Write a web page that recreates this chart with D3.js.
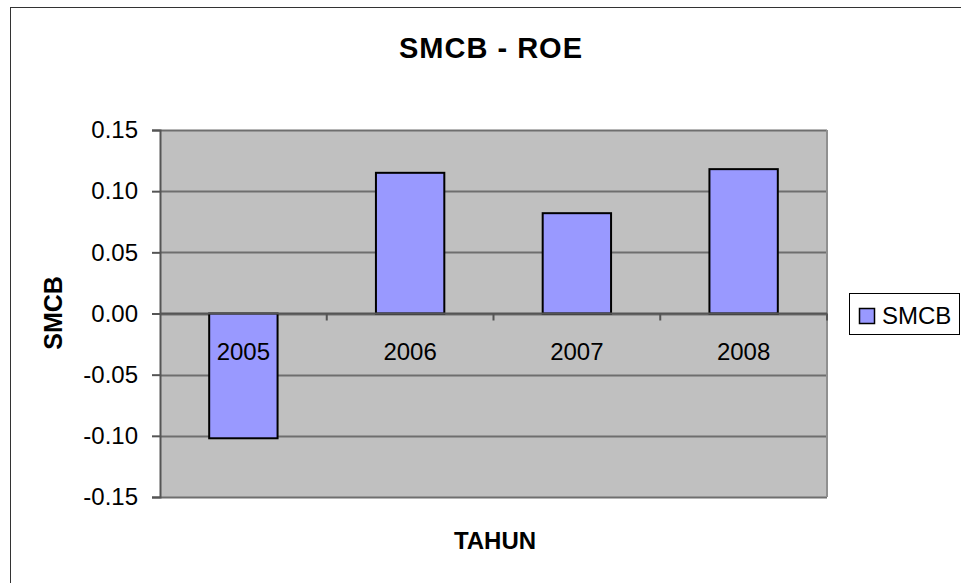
<!DOCTYPE html>
<html>
<head>
<meta charset="utf-8">
<script src="https://cdn.jsdelivr.net/npm/d3@7"></script>
<style>
  body { margin: 0; background: #fff; }
  text { font-family: "Liberation Sans", Arial, sans-serif; }
</style>
</head>
<body>
<script>
// data
var years = ["2005", "2006", "2007", "2008"];
var roe = [-0.102, 0.115, 0.082, 0.118];
var yTicks = [-0.15, -0.10, -0.05, 0.00, 0.05, 0.10, 0.15];

var W = 961, H = 583;
var plot = {left: 160, top: 130, right: 827, bottom: 497};

var svg = d3.select("body").append("svg")
  .attr("width", W)
  .attr("height", H);

// outer frame (right/bottom edges fall outside the window)
svg.append("rect")
  .attr("x", 10.5).attr("y", 7.5)
  .attr("width", 1000).attr("height", 1000)
  .attr("fill", "#fff")
  .attr("stroke", "#333").attr("stroke-width", 1);

var xScale = d3.scaleBand()
  .domain(years)
  .range([plot.left, plot.right]);

var yScale = d3.scaleLinear()
  .domain([-0.15, 0.15])
  .range([plot.bottom, plot.top]);

// plot background
svg.append("rect")
  .attr("x", plot.left).attr("y", plot.top)
  .attr("width", plot.right - plot.left)
  .attr("height", plot.bottom - plot.top)
  .attr("fill", "#c0c0c0");

// gridlines
svg.append("g")
  .selectAll("line")
  .data(yTicks)
  .enter()
  .append("line")
  .attr("x1", plot.left).attr("x2", plot.right)
  .attr("y1", function(d){ return Math.round(yScale(d)) + 0.5; })
  .attr("y2", function(d){ return Math.round(yScale(d)) + 0.5; })
  .attr("stroke", "#6e6e6e")
  .attr("stroke-width", 2);

// right border of plot
svg.append("line")
  .attr("x1", plot.right).attr("x2", plot.right)
  .attr("y1", plot.top).attr("y2", plot.bottom)
  .attr("stroke", "#909090").attr("stroke-width", 2);

// y axis
var fmt = d3.format(".2f");
var yAxis = d3.axisLeft(yScale)
  .tickValues(yTicks)
  .tickSize(8)
  .tickPadding(14)
  .tickFormat(function(d){ return fmt(d).replace("\u2212", "-"); });

var yAxisGroup = svg.append("g")
  .attr("transform", "translate(" + plot.left + ",0)")
  .call(yAxis);
yAxisGroup.select(".domain").attr("stroke", "#555").attr("stroke-width", 2);
yAxisGroup.selectAll(".tick line").attr("stroke", "#555").attr("stroke-width", 2);
yAxisGroup.selectAll(".tick text")
  .attr("font-size", 24)
  .attr("font-family", "Liberation Sans, Arial, sans-serif")
  .attr("fill", "#000");

// bars
var barW = xScale.bandwidth() * 0.41;
svg.append("g")
  .selectAll("rect")
  .data(roe)
  .enter()
  .append("rect")
  .attr("x", function(d, i){ return xScale(years[i]) + (xScale.bandwidth() - barW) / 2; })
  .attr("y", function(d){ return yScale(Math.max(0, d)); })
  .attr("width", barW)
  .attr("height", function(d){ return Math.abs(yScale(d) - yScale(0)); })
  .attr("fill", "#9999ff")
  .attr("stroke", "#000")
  .attr("stroke-width", 2);

// x axis at zero
var xAxisGroup = svg.append("g")
  .attr("transform", "translate(0," + yScale(0) + ")");
xAxisGroup.append("line")
  .attr("x1", plot.left).attr("x2", plot.right)
  .attr("stroke", "#555").attr("stroke-width", 2);
xAxisGroup.selectAll("line.tick")
  .data(years)
  .enter()
  .append("line")
  .attr("class", "tick")
  .attr("x1", function(d){ return xScale(d) + xScale.bandwidth(); })
  .attr("x2", function(d){ return xScale(d) + xScale.bandwidth(); })
  .attr("y1", 0).attr("y2", 7)
  .attr("stroke", "#555").attr("stroke-width", 2);
xAxisGroup.selectAll("text")
  .data(years)
  .enter()
  .append("text")
  .attr("x", function(d){ return xScale(d) + xScale.bandwidth() / 2; })
  .attr("y", 46)
  .attr("text-anchor", "middle")
  .attr("font-size", 24)
  .text(function(d){ return d; });

// title
svg.append("text")
  .attr("x", 491).attr("y", 58)
  .attr("text-anchor", "middle")
  .attr("font-size", 29)
  .attr("font-weight", "bold")
  .attr("letter-spacing", 1)
  .text("SMCB - ROE");

// axis titles
svg.append("text")
  .attr("x", 495).attr("y", 549)
  .attr("text-anchor", "middle")
  .attr("font-size", 24)
  .attr("font-weight", "bold")
  .text("TAHUN");

svg.append("text")
  .attr("transform", "translate(62,313) rotate(-90)")
  .attr("text-anchor", "middle")
  .attr("font-size", 25)
  .attr("font-weight", "bold")
  .text("SMCB");

// legend
var legend = svg.append("g");
legend.append("rect")
  .attr("x", 849.5).attr("y", 293.5)
  .attr("width", 110).attr("height", 41)
  .attr("fill", "#fff")
  .attr("stroke", "#000").attr("stroke-width", 1);
legend.append("rect")
  .attr("x", 859.5).attr("y", 308.5)
  .attr("width", 15).attr("height", 15)
  .attr("fill", "#9999ff")
  .attr("stroke", "#000").attr("stroke-width", 1.5);
legend.append("text")
  .attr("x", 882).attr("y", 324)
  .attr("font-size", 24)
  .text("SMCB");
</script>
</body>
</html>
